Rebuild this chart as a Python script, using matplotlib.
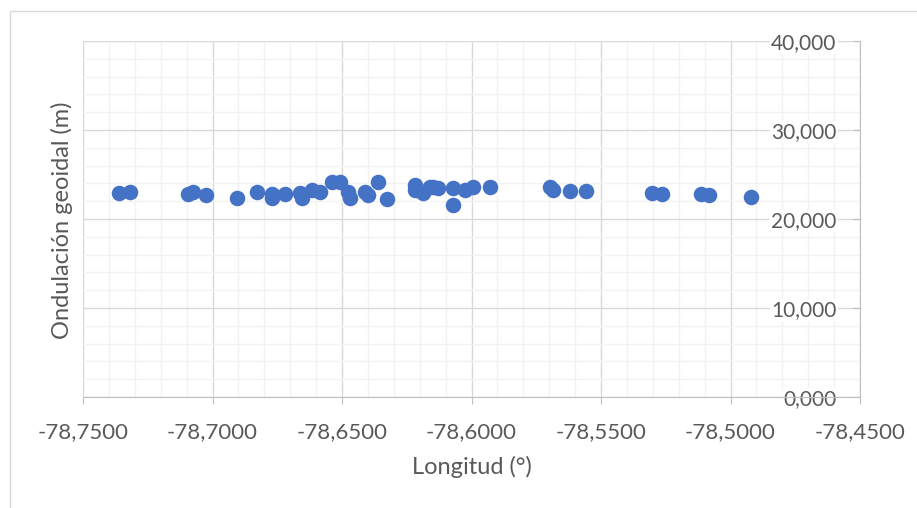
import matplotlib.pyplot as plt
from matplotlib.patches import Rectangle
from matplotlib.ticker import MultipleLocator, FuncFormatter

# longitud (deg) y ondulacion geoidal (m)
longitud = [-78.7361, -78.7319, -78.7095, -78.7075, -78.7025, -78.6904,
            -78.6827, -78.6769, -78.6769, -78.6720, -78.6662, -78.6656,
            -78.6617, -78.6585, -78.6540, -78.6508, -78.6476, -78.6469,
            -78.6411, -78.6400, -78.6360, -78.6327, -78.6218, -78.6218,
            -78.6212, -78.6186, -78.6160, -78.6147, -78.6128, -78.6070,
            -78.6070, -78.6025, -78.5993, -78.5929, -78.5697, -78.5684,
            -78.5620, -78.5558, -78.5304, -78.5266, -78.5114, -78.5082,
            -78.4922]
ondulacion = [22.92, 23.03, 22.81, 23.03, 22.70, 22.33,
              23.00, 22.78, 22.33, 22.78, 22.89, 22.33,
              23.26, 23.00, 24.12, 24.12, 23.07, 22.33,
              23.00, 22.70, 24.12, 22.25, 23.26, 23.80,
              23.40, 22.88, 23.60, 23.60, 23.50, 23.43,
              21.57, 23.26, 23.63, 23.63, 23.63, 23.26,
              23.15, 23.15, 22.89, 22.78, 22.78, 22.70,
              22.51]

plt.rcParams['font.family'] = ['Lato', 'DejaVu Sans']

fig = plt.figure(figsize=(9.17, 5.08), dpi=100)
ax = fig.add_axes([83/917, 111/508, 777/917, 356/508])

ax.scatter(longitud, ondulacion, s=125, color='#4472C4', zorder=3, linewidths=0)

ax.set_xlim(-78.75, -78.45)
ax.set_ylim(0, 40)
ax.xaxis.set_major_locator(MultipleLocator(0.05))
ax.xaxis.set_minor_locator(MultipleLocator(0.01))
ax.yaxis.set_major_locator(MultipleLocator(10))
ax.yaxis.set_minor_locator(MultipleLocator(2))
ax.xaxis.set_major_formatter(FuncFormatter(lambda v, p: f'{v:.4f}'.replace('.', ',')))
ax.yaxis.set_major_formatter(FuncFormatter(lambda v, p: f'{v:.3f}'.replace('.', ',')))

ax.grid(which='major', color='#D9D9D9', linewidth=1.0, zorder=0)
ax.grid(which='minor', color='#F2F2F2', linewidth=1.0, zorder=0)
ax.set_axisbelow(True)

# eje vertical cruza en -78,45 (lado derecho)
ax.spines['left'].set_position(('data', -78.45))
ax.spines['left'].set_color('#BFBFBF')
ax.spines['bottom'].set_color('#BFBFBF')
ax.spines['right'].set_visible(False)
ax.spines['top'].set_visible(False)

ax.tick_params(which='major', length=5, color='#BFBFBF', labelcolor='#595959')
ax.tick_params(which='minor', length=0)
ax.tick_params(axis='x', pad=13, labelsize=16)
ax.tick_params(axis='y', pad=12, labelsize=15)
for lbl in ax.get_yticklabels():
    lbl.set_bbox(dict(facecolor='white', edgecolor='none', pad=1))

ax.set_xlabel('Longitud (°)', fontsize=17, color='#595959', labelpad=10)
fig.text(62/917, 1 - 220/508, 'Ondulación geoidal (m)', rotation=90,
         ha='center', va='center', fontsize=17, color='#595959')

fig.add_artist(Rectangle((10/917, -0.1), 2, 1.1 - 11/508, transform=fig.transFigure,
                         fill=False, edgecolor='#D9D9D9', linewidth=1))

fig.savefig('out.png', dpi=100)
